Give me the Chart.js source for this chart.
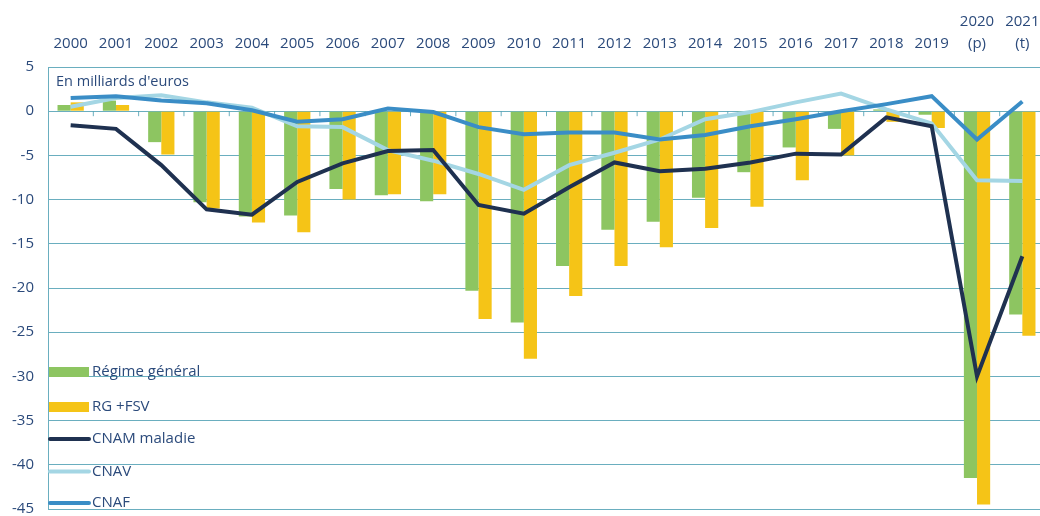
<!DOCTYPE html>
<html lang="fr">
<head>
<meta charset="utf-8">
<script src="https://cdn.jsdelivr.net/npm/chart.js@4.4.1/dist/chart.umd.min.js"></script>
<style>
  html, body { margin: 0; padding: 0; background: #ffffff; overflow: hidden; }
  #wrap { position: relative; width: 1050px; height: 516px; }
</style>
</head>
<body>
<div id="wrap"><canvas id="c"></canvas></div>
<script>
// ---- Data (milliards d'euros) ----
const categories = ['2000','2001','2002','2003','2004','2005','2006','2007','2008','2009','2010',
  '2011','2012','2013','2014','2015','2016','2017','2018','2019',['2020','(p)'],['2021','(t)']];

const regimeGeneral = [0.7, 1.2, -3.5, -10.3, -11.9, -11.8, -8.8, -9.5, -10.2, -20.3, -23.9,
  -17.5, -13.4, -12.5, -9.8, -6.9, -4.1, -2.0, 0.2, -0.4, -41.5, -23.0];
const rgFsv = [1.0, 0.7, -4.9, -11.0, -12.6, -13.7, -10.0, -9.4, -9.4, -23.5, -28.0,
  -20.9, -17.5, -15.4, -13.2, -10.8, -7.8, -5.0, -1.2, -1.9, -44.5, -25.4];
const cnamMaladie = [-1.6, -2.0, -6.1, -11.1, -11.7, -8.0, -5.9, -4.5, -4.4, -10.6, -11.6,
  -8.6, -5.8, -6.8, -6.5, -5.8, -4.8, -4.9, -0.7, -1.7, -30.0, -16.4];
const cnav = [0.5, 1.5, 1.8, 1.0, 0.4, -1.7, -1.8, -4.4, -5.6, -7.1, -8.9,
  -6.1, -4.7, -3.2, -0.9, -0.1, 1.0, 2.0, 0.2, -1.4, -7.8, -7.9];
const cnaf = [1.5, 1.7, 1.2, 0.9, 0.1, -1.2, -0.9, 0.3, -0.1, -1.8, -2.6,
  -2.4, -2.4, -3.2, -2.7, -1.7, -0.9, 0.0, 0.8, 1.7, -3.2, 1.1];

const yTicks = [5, 0, -5, -10, -15, -20, -25, -30, -35, -40, -45];
const unitLabel = "En milliards d'euros";

// ---- Styles ----
const TEXT = '#2b4a7b';
const GRID = 'rgba(80,160,180,0.85)';
const FONT = "'Open Sans', sans-serif";

const zeroTicks = {
  id: 'zeroTicks',
  beforeDatasetsDraw(chart) {
    const { ctx, scales: { x, y } } = chart;
    const y0 = y.getPixelForValue(0);
    ctx.save();
    ctx.strokeStyle = GRID;
    ctx.lineWidth = 1;
    for (let i = 1; i < categories.length; i++) {
      const px = (x.getPixelForValue(i - 1) + x.getPixelForValue(i)) / 2;
      ctx.beginPath();
      ctx.moveTo(px, y0);
      ctx.lineTo(px, y0 + 5);
      ctx.stroke();
    }
    ctx.restore();
  }
};

const annotations = {
  id: 'annotations',
  afterDraw(chart) {
    const { ctx, chartArea } = chart;
    ctx.save();
    ctx.fillStyle = TEXT;
    ctx.font = "14.5px " + FONT;
    ctx.textBaseline = 'middle';
    ctx.textAlign = 'left';
    ctx.fillText(unitLabel, chartArea.left + 8, 82);

    // custom legend inside plot area
    const rows = [372, 407, 439, 471.5, 503];
    chart.data.datasets.forEach((ds, i) => {
      const yy = rows[i];
      const x0 = chartArea.left + 1, x1 = chartArea.left + 41;
      if (ds.type === 'bar') {
        ctx.fillStyle = ds.backgroundColor;
        ctx.fillRect(x0, yy - 5, x1 - x0, 10);
      } else {
        ctx.strokeStyle = ds.borderColor;
        ctx.lineWidth = 4;
        ctx.lineCap = 'round';
        ctx.beginPath();
        ctx.moveTo(x0 + 1, yy);
        ctx.lineTo(x1, yy);
        ctx.stroke();
      }
      ctx.fillStyle = TEXT;
      ctx.font = "15px " + FONT;
      ctx.fillText(ds.label, x1 + 3, yy);
    });
    ctx.restore();
  }
};

function noPad(scale) {
  scale.paddingTop = 0; scale.paddingBottom = 0;
  scale.paddingLeft = 0; scale.paddingRight = 0;
}

new Chart(document.getElementById('c'), {
  data: {
    labels: categories,
    datasets: [
      { type: 'bar', label: 'Régime général', data: regimeGeneral, backgroundColor: '#8dc561', order: 4 },
      { type: 'bar', label: 'RG +FSV', data: rgFsv, backgroundColor: '#f5c417', order: 5 },
      { type: 'line', label: 'CNAM maladie', data: cnamMaladie, borderColor: '#1f3150', borderWidth: 4, pointRadius: 0, tension: 0, order: 1 },
      { type: 'line', label: 'CNAV', data: cnav, borderColor: '#a4d6e4', borderWidth: 4, pointRadius: 0, tension: 0, order: 3 },
      { type: 'line', label: 'CNAF', data: cnaf, borderColor: '#3a8dc6', borderWidth: 4, pointRadius: 0, tension: 0, order: 2 }
    ]
  },
  options: {
    responsive: true,
    maintainAspectRatio: false,
    animation: false,
    layout: { autoPadding: false, padding: { left: 0, right: 5, top: 0, bottom: 7 } },
    datasets: { bar: { categoryPercentage: 0.58, barPercentage: 1.0 } },
    plugins: { legend: { display: false }, tooltip: { enabled: false } },
    scales: {
      x: {
        position: 'top',
        grid: { display: false, drawTicks: false },
        border: { display: false },
        ticks: { color: TEXT, font: { family: FONT, size: 15, lineHeight: 1.5 }, padding: 12, maxRotation: 0, autoSkip: false },
        afterFit(scale) { scale.height = 67; noPad(scale); }
      },
      y: {
        min: -45, max: 5,
        grid: { color: GRID, lineWidth: 1, drawTicks: false },
        border: { display: true, color: GRID, width: 1 },
        ticks: { color: TEXT, font: { family: FONT, size: 15 }, padding: 14, stepSize: 5,
                 callback: (v) => yTicks.includes(v) ? String(v) : '' },
        afterFit(scale) { scale.width = 48; noPad(scale); }
      }
    }
  },
  plugins: [zeroTicks, annotations]
});
</script>
</body>
</html>
